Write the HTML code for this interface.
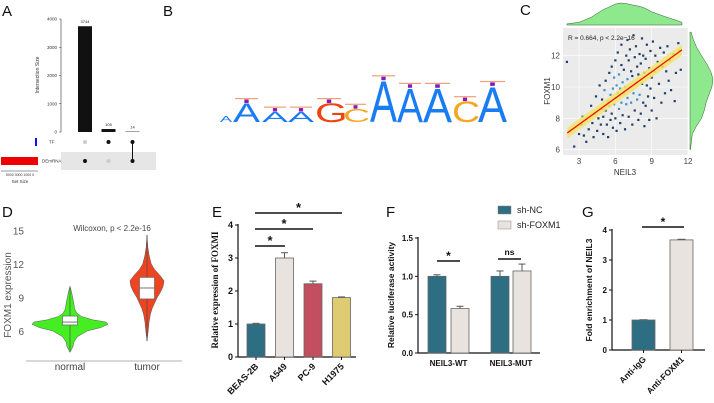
<!DOCTYPE html>
<html><head><meta charset="utf-8">
<style>
html,body{margin:0;padding:0;background:#fff;}
svg{display:block;font-family:"Liberation Sans",sans-serif;}
</style></head>
<body>
<svg id="fig" width="714" height="403" viewBox="0 0 714 403" xmlns="http://www.w3.org/2000/svg">
<g font-size="15" fill="#111">
<text x="2" y="16">A</text>
<text x="163" y="16">B</text>
<text x="520" y="15">C</text>
<text x="2" y="217">D</text>
<text x="212" y="217">E</text>
<text x="386" y="217">F</text>
<text x="582" y="217">G</text>
</g>
<g id="pA"></g>
<g id="pB"></g>
<g id="pC"></g>
<g id="pD"></g>
<g id="pE"></g>
<g id="pF"></g>
<g id="pG"></g>
</svg>
<script>
// ---------- data ----------
const upsetSizes = [3744, 105, 14];
const upsetTicks = [0, 1000, 2000, 3000, 4000];
const upsetSets = ['TF', 'DEmRNA'];
const logoLetters = ['A','A','A','A','G','C','A','A','A','C','A'];
const logoHeights = [0.3, 1.0, 0.55, 0.55, 1.0, 0.7, 2.2, 1.8, 1.8, 1.1, 1.9];
const scatterX = [2.0,2.6,3.0,3.2,3.4,3.6,3.3,3.8,4.0,4.1,4.2,4.3,4.4,4.5,4.6,4.7,4.8,4.9,4.9,
5.0,5.0,5.1,5.2,5.2,5.3,5.4,5.4,5.5,5.5,5.6,5.6,5.7,5.7,5.8,5.8,5.9,5.9,
6.0,6.0,6.0,6.1,6.1,6.2,6.2,6.3,6.3,6.4,6.4,6.5,6.5,6.5,6.6,6.6,6.7,6.7,6.8,6.8,6.9,6.9,
7.0,7.0,7.0,7.1,7.1,7.2,7.2,7.3,7.3,7.4,7.4,7.5,7.5,7.6,7.6,7.7,7.7,7.8,7.8,7.9,7.9,
8.0,8.0,8.1,8.1,8.2,8.2,8.3,8.3,8.4,8.4,8.5,8.5,8.6,8.6,8.7,8.8,8.8,8.9,8.9,
9.0,9.0,9.1,9.2,9.2,9.3,9.4,9.5,9.6,9.7,9.8,9.9,10.0,10.1,10.2,10.3,10.4,10.5,10.6,10.8,11.0,11.2,11.4,11.3,10.9];
const scatterY = [11.6,6.2,7.0,7.6,6.9,6.5,8.1,7.3,8.8,7.7,6.8,8.3,9.4,7.2,8.0,10.1,7.6,8.6,9.2,
7.0,8.1,9.8,8.5,10.4,7.6,9.1,6.8,8.8,10.9,7.9,9.5,8.3,11.3,9.9,7.4,8.9,10.6,
9.3,11.7,8.0,10.1,7.2,9.6,12.2,8.6,10.8,9.9,7.7,11.4,9.0,12.7,10.3,8.2,9.6,11.1,10.0,7.3,12.0,8.9,
10.5,9.3,13.0,11.7,8.1,10.0,12.4,9.0,11.0,7.6,10.7,13.3,9.6,11.9,8.5,10.3,12.6,9.2,11.3,7.9,10.8,
12.1,9.5,8.3,11.5,10.2,13.1,9.0,12.0,7.5,10.9,11.8,8.8,10.1,12.7,9.4,11.2,7.9,12.3,9.9,
10.6,8.5,12.9,11.0,9.3,12.0,8.0,11.6,10.2,12.5,9.0,11.3,12.2,9.6,11.0,12.6,10.4,11.7,9.8,12.1,10.9,12.8,11.1,12.3,9.1];
const densTopX = [2,3,4,5,5.5,6,6.5,7,7.5,8,8.5,9,10,11,11.5];
const densTopY = [0.05,0.12,0.35,0.7,0.82,0.95,1.0,0.96,0.9,0.85,0.75,0.6,0.4,0.22,0.12];
const densRightV = [6,7,7.5,8,8.5,9,9.5,10,10.5,11,11.5,12,12.5,13,13.5];
const densRightD = [0.02,0.1,0.28,0.5,0.62,0.7,0.82,0.95,1.0,0.9,0.72,0.5,0.3,0.15,0.05];
const fitIntercept = 5.93, fitSlope = 0.56;
const violinGroups = ['normal','tumor'];
const violinVals = [[4.1,4.6,5.0,5.5,6.0,6.3,6.6,6.8,7.0,7.3,7.6,8.0,8.5,9.0,9.5,10.0],[5.1,6.0,6.8,7.5,8.0,8.5,9.0,9.5,10.0,10.5,11.0,11.5,12.0,12.8,13.5,14.6]];
const violinDens = [[0,0.08,0.1,0.2,0.45,0.8,1.0,0.95,0.6,0.3,0.18,0.12,0.1,0.07,0.04,0],[0,0.07,0.12,0.2,0.3,0.45,0.6,0.8,0.95,1.0,0.75,0.45,0.25,0.12,0.05,0]];
const violinBox = [[6.54,6.8,7.34],[8.87,9.85,10.8]];
const eCats = ['BEAS-2B','A549','PC-9','H1975'];
const eVals = [1.0, 3.0, 2.22, 1.8];
const eErr = [0.02, 0.16, 0.08, 0.02];
const eTicks = [0,1,2,3,4];
const fGroups = ['NEIL3-WT','NEIL3-MUT'];
const fNC = [1.0, 1.0];
const fFOX = [0.58, 1.07];
const fNCerr = [0.02, 0.07];
const fFOXerr = [0.03, 0.09];
const fTicks = [0.0, 0.5, 1.0, 1.5];
const gCats = ['Anti-IgG','Anti-FOXM1'];
const gVals = [1.0, 3.67];
const gErr = [0.01, 0.02];
const gTicks = [0,1,2,3,4];

const NS='http://www.w3.org/2000/svg';
function mk(parent, tag, attrs, text){
  const el=document.createElementNS(NS,tag);
  for(const k in attrs) el.setAttribute(k,attrs[k]);
  if(text!==undefined) el.textContent=text;
  parent.appendChild(el);
  return el;
}
let el;
// ---------- A ----------
(function(){
  const g=document.getElementById('pA');
  const y=v=>132-v*(113/4000);
  el=mk(g,'line',{x1:61,y1:19,x2:61,y2:132,stroke:'#333','stroke-width':0.6});
  
  
  upsetTicks.forEach(t=>{
    el=mk(g,'text',{x:57,y:y(t)+1.5,'font-size':4.5,'text-anchor':'end',fill:'#333'},t);
    
    
    mk(g,'line',{x1:59,x2:61,y1:y(t),y2:y(t),stroke:'#333','stroke-width':0.5});
  });
  el=mk(g,'text',{transform:'translate(39,75) rotate(-90)','font-size':5,'text-anchor':'middle',fill:'#333'},'Intersection Size');
  
  
  const xs=[85,108.5,132.5];
  upsetSizes.forEach((v,i)=>{
    el=mk(g,'rect',{x:xs[i]-7,y:y(v),width:14,height:132-y(v),fill:'#111'});
    
    
    el=mk(g,'text',{x:xs[i],y:y(v)-3,'font-size':4,'text-anchor':'middle',fill:'#222'},v);
    
    
  });
  el=mk(g,'rect',{x:61,y:152,width:95,height:18,fill:'#e6e6e6'});
  
  
  const rows=[142,161];
  upsetSets.forEach((s,i)=>{
    el=mk(g,'text',{x:i?42:49,y:rows[i]+1.5,'font-size':4.5,fill:'#333'},s);
    
    
  });
  const mat=[[0,1],[1,0],[1,1]];
  mat.forEach((m,i)=>{
    m.forEach((on,j)=>{
      el=mk(g,'circle',{cx:xs[i],cy:rows[j],r:2,fill:on?'#111':'#ccc'});
      
      
    });
  });
  mk(g,'line',{x1:132.5,x2:132.5,y1:142,y2:161,stroke:'#111','stroke-width':1});
  el=mk(g,'rect',{x:35,y:138,width:2,height:8,fill:'#1010ee'});
  
  
  el=mk(g,'rect',{x:1,y:157,width:37,height:8,fill:'#ee0000'});
  
  
  mk(g,'line',{x1:1,x2:38,y1:171,y2:171,stroke:'#333','stroke-width':0.5});
  el=mk(g,'text',{x:20,y:176,'font-size':3.5,'text-anchor':'middle',fill:'#333'},'5000 3000 1000  0');
  
  
  el=mk(g,'text',{x:20,y:183,'font-size':4.5,'text-anchor':'middle',fill:'#333'},'Set Size');
  
  
})();
// ---------- B ----------
(function(){
  const g=document.getElementById('pB');
  const lx=[220,233,262,288,315,343,370,397,423,452,478];
  const lw=[12,27,26,26,28,25,27,26,29,26,29];
  const colors={A:'#1a7cf2',C:'#f5a623',G:'#ee4411',T:'#8a1ab8'};
  const base=122, unit=19;
  logoLetters.forEach((L,i)=>{
    const h=logoHeights[i]*unit, w=lw[i];
    const sx=w/6.67, sy=h/7.16;
    el=mk(g,'text',{transform:`translate(${lx[i]},${base}) scale(${sx},${sy})`,'font-size':10,fill:colors[L]},L);
    
    
    const top=base-h;
    if(i>0){
      el=mk(g,'rect',{x:lx[i]+w*0.42,y:top-3.5,width:w*0.16,height:3.5,fill:'#8a1ab8'});
      
      
      mk(g,'rect',{x:lx[i]+2,y:top-5,width:w-4,height:1.2,fill:'#ee8855',opacity:0.8});
    }
  });
})();
// ---------- C ----------
(function(){
  const g=document.getElementById('pC');
  const X=v=>542.7+v*12.11, Y=v=>87-(v-10)*15.67;
  el=mk(g,'rect',{x:563,y:28,width:125,height:127,fill:'#ebebeb'});
  
  
  [3,6,9,12].forEach(t=>{
    mk(g,'line',{x1:X(t),x2:X(t),y1:28,y2:155,stroke:'#fff','stroke-width':0.6});
    el=mk(g,'text',{x:X(t),y:164,'font-size':8,'text-anchor':'middle',fill:'#444'},t);
    
    
  });
  [6,8,10,12].forEach(t=>{
    mk(g,'line',{x1:563,x2:688,y1:Y(t),y2:Y(t),stroke:'#fff','stroke-width':0.6});
    el=mk(g,'text',{x:560,y:Y(t)+3,'font-size':8,'text-anchor':'end',fill:'#444'},t);
    
    
  });
  scatterX.forEach((x,i)=>{
    const d=Math.hypot((x-6.5)*0.8,(scatterY[i]-9.6));
    el=mk(g,'rect',{x:X(x)-1.1,y:Y(scatterY[i])-1.1,width:2.2,height:2.2,fill:d<1.3?'#3d8fd0':'#1e3f66'});
    
    
  });
  const x0=2.03,x1=11.5;
  el=mk(g,'polygon',{points:`${X(x0)},${Y(fitIntercept+fitSlope*x0+0.35)} ${X(x1)},${Y(fitIntercept+fitSlope*x1+0.35)} ${X(x1)},${Y(fitIntercept+fitSlope*x1-0.35)} ${X(x0)},${Y(fitIntercept+fitSlope*x0-0.35)}`,fill:'#f3e46a',opacity:0.85});
  
  
  el=mk(g,'line',{x1:X(x0),y1:Y(fitIntercept+fitSlope*x0),x2:X(x1),y2:Y(fitIntercept+fitSlope*x1),stroke:'#ee1100','stroke-width':1.3});
  
  
  el=mk(g,'text',{x:568,y:40,'font-size':6.5,fill:'#222'},'R = 0.664, p < 2.2e−16');
  
  
  el=mk(g,'text',{x:625,y:175,'font-size':8,'text-anchor':'middle',fill:'#333'},'NEIL3');
  
  
  el=mk(g,'text',{transform:'translate(550,91) rotate(-90)','font-size':8,'text-anchor':'middle',fill:'#333'},'FOXM1');
  
  
  let pts=densTopX.map((x,i)=>`${X(x)},${25-densTopY[i]*22}`).join(' ');
  el=mk(g,'polygon',{points:`${X(densTopX[0])},25 ${pts} ${X(densTopX[densTopX.length-1])},25`,fill:'#8ee88e',stroke:'#2f5f2f','stroke-width':0.5});
  
  
  pts=densRightV.map((v,i)=>`${690+densRightD[i]*23},${Y(v)}`).join(' ');
  el=mk(g,'polygon',{points:`690,${Y(densRightV[0])} ${pts} 690,${Y(densRightV[densRightV.length-1])}`,fill:'#8ee88e',stroke:'#2f5f2f','stroke-width':0.5});
  
  
})();
// ---------- D ----------
(function(){
  const g=document.getElementById('pD');
  const Y=v=>331-(v-6)*11.17;
  const cx=[70,147], hw=[38,17], cols=['#44ee22','#ee4422'];
  [6,9,12,15].forEach(t=>{
    el=mk(g,'text',{x:24,y:Y(t)+4,'font-size':10,'text-anchor':'end',fill:'#555'},t);
    
    
  });
  mk(g,'line',{x1:26,x2:182,y1:361,y2:361,stroke:'#999','stroke-width':0.7});
  violinGroups.forEach((n,i)=>{
    const vs=violinVals[i], ds=violinDens[i];
    const right=vs.map((v,j)=>`${cx[i]+ds[j]*hw[i]},${Y(v)}`);
    const left=vs.map((v,j)=>`${cx[i]-ds[j]*hw[i]},${Y(v)}`).reverse();
    el=mk(g,'polygon',{points:right.concat(left).join(' '),fill:cols[i],stroke:'#555','stroke-width':0.5});
    
    
    mk(g,'line',{x1:cx[i],x2:cx[i],y1:Y(vs[vs.length-1]),y2:Y(vs[0]),stroke:'#444','stroke-width':0.6});
    const b=violinBox[i];
    el=mk(g,'rect',{x:cx[i]-7.5,y:Y(b[2]),width:15,height:Y(b[0])-Y(b[2]),fill:'#fff',stroke:'#666','stroke-width':0.7});
    
    
    mk(g,'line',{x1:cx[i]-7.5,x2:cx[i]+7.5,y1:Y(b[1]),y2:Y(b[1]),stroke:'#555','stroke-width':0.8});
    el=mk(g,'text',{x:cx[i],y:370,'font-size':10,'text-anchor':'middle',fill:'#444'},n);
    
    
  });
  el=mk(g,'text',{x:112,y:231,'font-size':8,'text-anchor':'middle',fill:'#444'},'Wilcoxon, p < 2.2e-16');
  
  
  el=mk(g,'text',{transform:'translate(11,295) rotate(-90)','font-size':10,'text-anchor':'middle',fill:'#555'},'FOXM1 expression');
  
  
})();
function axisY(g,ax,y0,y1,ticks,fmt,prefix,fs,font){
  mk(g,'line',{x1:ax,x2:ax,y1:y1-1,y2:y0,stroke:'#111','stroke-width':1.2});
  const lo=ticks[0],hi=ticks[ticks.length-1];
  ticks.forEach(t=>{
    const y=y0-(t-lo)/(hi-lo)*(y0-y1);
    mk(g,'line',{x1:ax-3,x2:ax,y1:y,y2:y,stroke:'#111','stroke-width':1});
    el=mk(g,'text',{x:ax-5,y:y+3,'font-size':fs,'text-anchor':'end','font-weight':'bold',fill:'#111','font-family':font},fmt(t));
    
    
  });
}
function sig(g,x1,x2,y,lab,fs){
  mk(g,'line',{x1,x2,y1:y,y2:y,stroke:'#111','stroke-width':1.6});
  el=mk(g,'text',{x:(x1+x2)/2,y:lab==='*'?y-1:y-4,'font-size':fs,'text-anchor':'middle','font-weight':'bold',fill:'#111'},lab);
  
  
}
// ---------- E ----------
(function(){
  const g=document.getElementById('pE');
  const y0=357,y4=225,Y=v=>y0-v*(y0-y4)/4;
  const xs=[256,284.5,313,341.5],cols=['#2e6e82','#e8e3df','#c24e5e','#dfcb72'];
  axisY(g,238,y0,y4,eTicks,t=>t,'e',9,'Liberation Sans');
  mk(g,'line',{x1:238,x2:356,y1:y0,y2:y0,stroke:'#111','stroke-width':1.2});
  eCats.forEach((c,i)=>{
    mk(g,'line',{x1:xs[i],x2:xs[i],y1:Y(eVals[i]+eErr[i]),y2:Y(eVals[i]),stroke:'#555','stroke-width':1});
    mk(g,'line',{x1:xs[i]-3.5,x2:xs[i]+3.5,y1:Y(eVals[i]+eErr[i]),y2:Y(eVals[i]+eErr[i]),stroke:'#555','stroke-width':1});
    el=mk(g,'rect',{x:xs[i]-9,y:Y(eVals[i]),width:18,height:y0-Y(eVals[i]),fill:cols[i],stroke:'#666','stroke-width':0.8});
    
    
    mk(g,'line',{x1:xs[i],x2:xs[i],y1:y0,y2:y0+3,stroke:'#111'});
    el=mk(g,'text',{transform:`translate(${xs[i]+3},${y0+10}) rotate(-45)`,'font-size':9,'font-weight':'bold','text-anchor':'end',fill:'#111'},c);
    
    
  });
  sig(g,255,285,246,'*',13); sig(g,255,313,229,'*',13); sig(g,255,342,213,'*',13);
  el=mk(g,'text',{transform:'translate(218,290) rotate(-90)','font-size':9,'font-weight':'bold','text-anchor':'middle','font-family':'Liberation Serif, serif',fill:'#111'},'Relative expression of FOXMI');
  
  
})();
// ---------- F ----------
(function(){
  const g=document.getElementById('pF');
  const y0=353,yt=238,Y=v=>y0-v*(y0-yt)/1.5;
  axisY(g,418,y0,yt,fTicks,t=>t.toFixed(1),'f',8,'Liberation Sans');
  mk(g,'line',{x1:418,x2:540,y1:y0,y2:y0,stroke:'#111','stroke-width':1.2});
  const gx=[[428,451],[491,513]];
  fGroups.forEach((n,i)=>{
    [[fNC,fNCerr,'#2e6e82'],[fFOX,fFOXerr,'#e8e3df']].forEach((s,k)=>{
      const x=gx[i][k],v=s[0][i],e=s[1][i];
      mk(g,'line',{x1:x+9,x2:x+9,y1:Y(v+e),y2:Y(v),stroke:'#555'});
      mk(g,'line',{x1:x+5.5,x2:x+12.5,y1:Y(v+e),y2:Y(v+e),stroke:'#555'});
      el=mk(g,'rect',{x,y:Y(v),width:18,height:y0-Y(v),fill:s[2],stroke:'#666','stroke-width':0.8});
      
      
    });
    el=mk(g,'text',{x:(gx[i][0]+gx[i][1]+18)/2,y:366,'font-size':8,'font-weight':'bold','text-anchor':'middle',fill:'#111'},n);
    
    
  });
  sig(g,437,460,261,'*',12); sig(g,498,521,259,'ns',8.5);
  [['sh-NC','#2e6e82',210],['sh-FOXM1','#e8e3df',225]].forEach(l=>{
    el=mk(g,'rect',{x:498,y:l[2]-4,width:13,height:8,fill:l[1],stroke:'#888','stroke-width':0.5});
    
    
    el=mk(g,'text',{x:517,y:l[2]+3,'font-size':9,fill:'#222'},l[0]);
    
    
  });
  el=mk(g,'text',{transform:'translate(394,295) rotate(-90)','font-size':8.5,'font-weight':'bold','text-anchor':'middle',fill:'#111'},'Relative luciferase activity');
  
  
})();
// ---------- G ----------
(function(){
  const g=document.getElementById('pG');
  const y0=350,yt=230,Y=v=>y0-v*(y0-yt)/4;
  axisY(g,612,y0,yt,gTicks,t=>t,'g',8,'Liberation Sans');
  mk(g,'line',{x1:612,x2:705,y1:y0,y2:y0,stroke:'#111','stroke-width':1.2});
  const xs=[643.5,681.5],cols=['#2e6e82','#e8e3df'];
  gCats.forEach((c,i)=>{
    mk(g,'line',{x1:xs[i]-4,x2:xs[i]+4,y1:Y(gVals[i]+gErr[i]),y2:Y(gVals[i]+gErr[i]),stroke:'#555'});
    el=mk(g,'rect',{x:xs[i]-11.5,y:Y(gVals[i]),width:23,height:y0-Y(gVals[i]),fill:cols[i],stroke:'#666','stroke-width':0.8});
    
    
    mk(g,'line',{x1:xs[i],x2:xs[i],y1:y0,y2:y0+3,stroke:'#111'});
    el=mk(g,'text',{transform:`translate(${xs[i]+3},${y0+10}) rotate(-45)`,'font-size':8.5,'font-weight':'bold','text-anchor':'end',fill:'#111'},c);
    
    
  });
  sig(g,642,684,227,'*',12);
  el=mk(g,'text',{transform:'translate(592,290) rotate(-90)','font-size':8.5,'font-weight':'bold','text-anchor':'middle',fill:'#111'},'Fold enrichment of NEIL3');
  
  
})();
</script>
</body></html>
